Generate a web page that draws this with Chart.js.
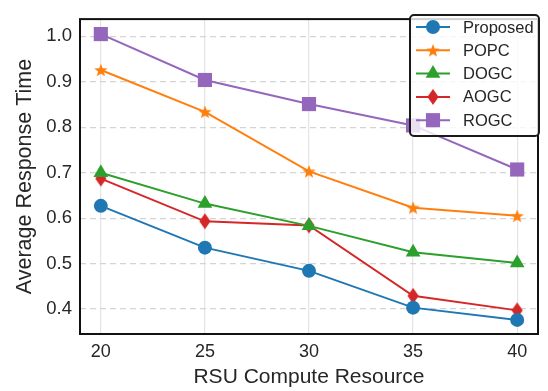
<!DOCTYPE html>
<html>
<head>
<meta charset="utf-8">
<script src="https://cdn.jsdelivr.net/npm/chart.js@4.4.1/dist/chart.umd.min.js"></script>
<style>
  html, body { margin: 0; padding: 0; background: #fff; }
  #wrap { width: 548px; height: 391px; }
</style>
</head>
<body>
<div id="wrap"><canvas id="myChart" width="548" height="391"></canvas></div>
<script>
const RESOURCES = [20, 25, 30, 35, 40];
const PROPOSED = [0.627, 0.535, 0.484, 0.403, 0.376];
const POPC = [0.926, 0.834, 0.703, 0.623, 0.605];
const DOGC = [0.700, 0.632, 0.583, 0.525, 0.501];
const AOGC = [0.687, 0.593, 0.584, 0.429, 0.397];
const ROGC = [1.005, 0.904, 0.851, 0.804, 0.707];
const Y_TICKS = [0.4, 0.5, 0.6, 0.7, 0.8, 0.9, 1.0];

const TEXT = '#262626';
const FONT = '"Liberation Sans", Arial, sans-serif';

// filled five point star, like matplotlib '*'
function starMarker(color, r) {
  const c = document.createElement('canvas');
  const s = Math.ceil(r * 2 + 2);
  c.width = s; c.height = s;
  const g = c.getContext('2d');
  g.translate(s / 2, s / 2 + r * 0.1);
  g.beginPath();
  for (let i = 0; i < 10; i++) {
    const rr = i % 2 === 0 ? r : r * 0.42;
    const a = -Math.PI / 2 + i * Math.PI / 5;
    g.lineTo(rr * Math.cos(a), rr * Math.sin(a));
  }
  g.closePath();
  g.fillStyle = color;
  g.fill();
  return c;
}

// thin diamond, like matplotlib 'd'
function thinDiamond(color, r) {
  const c = document.createElement('canvas');
  const s = Math.ceil(r * 2 + 2);
  c.width = s; c.height = s;
  const g = c.getContext('2d');
  g.translate(s / 2, s / 2);
  g.beginPath();
  g.moveTo(0, -r);
  g.lineTo(r * 0.7, 0);
  g.lineTo(0, r);
  g.lineTo(-r * 0.7, 0);
  g.closePath();
  g.fillStyle = color;
  g.fill();
  return c;
}

function toXY(vals) {
  return vals.map((v, i) => ({ x: RESOURCES[i], y: v }));
}

const series = [
  { label: 'Proposed', data: PROPOSED, color: '#1f77b4', style: 'circle', radius: 7 },
  { label: 'POPC', data: POPC, color: '#ff7f0e', style: starMarker('#ff7f0e', 7), radius: 7 },
  { label: 'DOGC', data: DOGC, color: '#2ca02c', style: 'triangle', radius: 8.5 },
  { label: 'AOGC', data: AOGC, color: '#d62728', style: thinDiamond('#d62728', 8), radius: 8 },
  { label: 'ROGC', data: ROGC, color: '#9467bd', style: 'rect', radius: 10 }
];

const datasets = series.map(s => ({
  label: s.label,
  data: toXY(s.data),
  borderColor: s.color,
  backgroundColor: s.color,
  borderWidth: 2,
  pointStyle: s.style,
  pointRadius: s.radius,
  pointHoverRadius: s.radius,
  pointBorderWidth: 0,
  tension: 0
}));

// frame around the plot + matplotlib style legend
const framePlugin = {
  id: 'frame',
  afterDraw(chart) {
    const ctx = chart.ctx;
    const a = chart.chartArea;
    ctx.save();
    ctx.strokeStyle = '#111';
    ctx.lineWidth = 2;
    ctx.strokeRect(a.left, a.top, a.right - a.left, a.bottom - a.top);

    // legend box
    const bx = 410, by = 15, bw = 129, bh = 121;
    ctx.globalAlpha = 0.8;
    ctx.fillStyle = '#fff';
    ctx.beginPath();
    ctx.roundRect(bx, by, bw, bh, 4);
    ctx.fill();
    ctx.globalAlpha = 1;
    ctx.strokeStyle = '#1a1a1a';
    ctx.lineWidth = 2;
    ctx.stroke();

    ctx.font = '16.5px ' + FONT;
    ctx.textBaseline = 'middle';
    series.forEach((s, i) => {
      const y = by + 12 + i * 23.3;
      ctx.strokeStyle = s.color;
      ctx.lineWidth = 2;
      ctx.beginPath();
      ctx.moveTo(416, y);
      ctx.lineTo(450, y);
      ctx.stroke();
      ctx.fillStyle = s.color;
      Chart.helpers.drawPoint(ctx, {
        pointStyle: s.style, radius: s.radius, rotation: 0, borderWidth: 0
      }, 433, y);
      ctx.fillStyle = TEXT;
      ctx.textAlign = 'left';
      ctx.fillText(s.label, 463, y + 1);
    });
    ctx.restore();
  }
};

const ctx = document.getElementById('myChart').getContext('2d');
const myChart = new Chart(ctx, {
  type: 'line',
  data: { datasets: datasets },
  options: {
    responsive: false,
    animation: false,
    layout: { padding: { top: 6, right: 1, left: 0, bottom: 0 } },
    plugins: {
      legend: { display: false },
      tooltip: { enabled: false }
    },
    scales: {
      x: {
        type: 'linear',
        min: 19,
        max: 41,
        afterBuildTicks: axis => { axis.ticks = RESOURCES.map(v => ({ value: v })); },
        afterFit: axis => { axis.height = 57; },
        grid: { color: '#e4e4e4', lineWidth: 1.2, drawTicks: false },
        border: { display: false },
        ticks: { color: TEXT, font: { family: FONT, size: 18 }, padding: 7 },
        title: { display: true, text: 'RSU Compute Resource', color: TEXT, font: { family: FONT, size: 21 }, padding: { top: 0, bottom: 1 } }
      },
      y: {
        min: 0.345,
        max: 1.038,
        afterBuildTicks: axis => { axis.ticks = Y_TICKS.map(v => ({ value: v })); },
        afterFit: axis => { axis.width = 80; },
        grid: { color: '#d4d4d4', lineWidth: 1.2, drawTicks: false },
        border: { display: false, dash: [6, 4] },
        ticks: { color: TEXT, font: { family: FONT, size: 18.5 }, padding: 8, callback: v => v.toFixed(1) },
        title: { display: true, text: 'Average Response Time', color: TEXT, font: { family: FONT, size: 21.5 }, padding: { top: 12, bottom: 0 } }
      }
    }
  },
  plugins: [framePlugin]
});
</script>
</body>
</html>
